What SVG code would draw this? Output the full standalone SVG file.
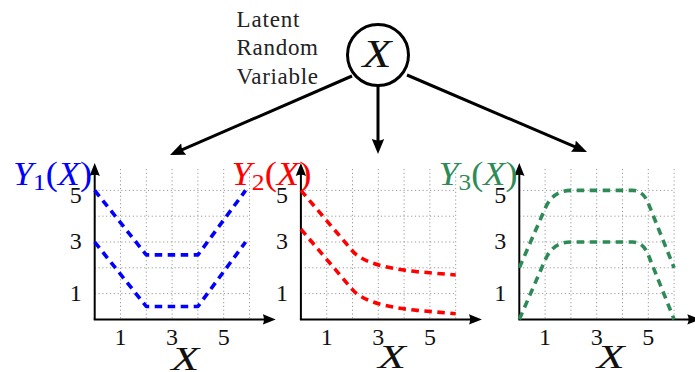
<svg xmlns="http://www.w3.org/2000/svg" width="695" height="372" viewBox="0 0 695 372">
<style>
.grid{stroke:#9a9a9a;stroke-width:1;stroke-dasharray:1.2 2.6;fill:none}
.axis{stroke:#000;stroke-width:2;fill:none}
.conn{stroke:#000;stroke-width:3;fill:none}
.curve{stroke-width:3.6;stroke-dasharray:7.5 5.5;fill:none;stroke-linejoin:round}
.serif{font-family:"Liberation Serif","Times New Roman",serif}
.tick{font-family:"Liberation Serif","Times New Roman",serif;font-size:24px;fill:#111}
.ital{font-style:italic}
.xlab{font-family:"Liberation Serif","Times New Roman",serif;font-size:34px;font-style:italic;fill:#111}
.ylab{font-family:"Liberation Serif","Times New Roman",serif;font-size:33px}
</style>
<defs>
<marker id="axArrow" markerUnits="userSpaceOnUse" viewBox="0 0 13 11" markerWidth="13" markerHeight="11" refX="3" refY="5.5" orient="auto">
<path d="M0,0.3 L13,5.5 L0,10.7 Q2.5,5.5 0,0.3 Z" fill="#000"/>
</marker>
<marker id="bigArrow" markerUnits="userSpaceOnUse" viewBox="0 0 15 13" markerWidth="15" markerHeight="13" refX="4" refY="6.5" orient="auto">
<path d="M0,0.3 L15,6.5 L0,12.7 Q3,6.5 0,0.3 Z" fill="#000"/>
</marker>
</defs>

<g id="latent-node">
<circle cx="378" cy="55" r="30.5" fill="#fff" stroke="#000" stroke-width="3"/>
<text x="377" y="67" class="serif ital" font-size="40" text-anchor="middle" textLength="29" lengthAdjust="spacingAndGlyphs" fill="#111">X</text>
<text x="236.5" y="26.5" class="serif" font-size="23" textLength="63" fill="#222">Latent</text>
<text x="236.5" y="55" class="serif" font-size="23" textLength="81.5" fill="#222">Random</text>
<text x="236.5" y="83.5" class="serif" font-size="23" textLength="81.5" fill="#222">Variable</text>
</g>

<g id="connectors">
<line class="conn" x1="352" y1="76" x2="180.1" y2="150.6" marker-end="url(#bigArrow)"/>
<line class="conn" x1="378" y1="86" x2="378" y2="143" marker-end="url(#bigArrow)"/>
<line class="conn" x1="407" y1="75" x2="576.9" y2="147.7" marker-end="url(#bigArrow)"/>
</g>

<g id="plot-y1">
<g class="grid">
<path d="M120.5,169V319.4M146.3,169V319.4M172.1,169V319.4M197.9,169V319.4M223.7,169V319.4M249.5,169V319.4"/>
<path d="M94.7,293.6H249.5M94.7,267.8H249.5M94.7,242H249.5M94.7,216.2H249.5M94.7,190.4H249.5"/>
</g>
<line class="axis" x1="94.7" y1="319.4" x2="94.7" y2="173" marker-end="url(#axArrow)"/>
<line class="axis" x1="93.7" y1="319.4" x2="265.7" y2="319.4" marker-end="url(#axArrow)"/>
<polyline class="curve" stroke="#0000ff" points="94.7,190.4 146.3,254.9 197.9,254.9 245.6,190.4"/>
<polyline class="curve" stroke="#0000ff" points="94.7,242 146.3,306.5 197.9,306.5 245.6,242"/>
<text x="120.5" y="345" class="tick" text-anchor="middle">1</text>
<text x="172.1" y="345" class="tick" text-anchor="middle">3</text>
<text x="223.7" y="345" class="tick" text-anchor="middle">5</text>
<text x="81.7" y="203" class="tick" text-anchor="end">5</text>
<text x="81.7" y="249" class="tick" text-anchor="end">3</text>
<text x="81.7" y="300.5" class="tick" text-anchor="end">1</text>
<text x="185.2" y="370" class="xlab" text-anchor="middle" textLength="28" lengthAdjust="spacingAndGlyphs">X</text>
<text x="13" y="185" class="ylab" fill="#0000ff" textLength="79" lengthAdjust="spacingAndGlyphs"><tspan class="ital">Y</tspan><tspan font-size="23" dy="5">1</tspan><tspan dy="-5">(</tspan><tspan class="ital">X</tspan>)</text>
</g>

<g id="plot-y2">
<g class="grid">
<path d="M326.7,169V319.4M352.5,169V319.4M378.3,169V319.4M404.1,169V319.4M429.9,169V319.4M455.7,169V319.4"/>
<path d="M300.9,293.6H455.7M300.9,267.8H455.7M300.9,242H455.7M300.9,216.2H455.7M300.9,190.4H455.7"/>
</g>
<line class="axis" x1="300.9" y1="319.4" x2="300.9" y2="173" marker-end="url(#axArrow)"/>
<line class="axis" x1="299.9" y1="319.4" x2="471.9" y2="319.4" marker-end="url(#axArrow)"/>
<path class="curve" stroke="#ff0000" d="M300.9,190.4 L352.5,251 Q365.7,266.5 417,271.7 L455.7,275"/>
<path class="curve" stroke="#ff0000" d="M300.9,229.1 L352.5,289.7 Q365.7,305.2 417,310.4 L455.7,313.7"/>
<text x="326.7" y="345" class="tick" text-anchor="middle">1</text>
<text x="378.3" y="345" class="tick" text-anchor="middle">3</text>
<text x="429.9" y="345" class="tick" text-anchor="middle">5</text>
<text x="287.9" y="203" class="tick" text-anchor="end">5</text>
<text x="287.9" y="249" class="tick" text-anchor="end">3</text>
<text x="287.9" y="300.5" class="tick" text-anchor="end">1</text>
<text x="391.9" y="368" class="xlab" text-anchor="middle" textLength="28" lengthAdjust="spacingAndGlyphs">X</text>
<text x="231.5" y="185" class="ylab" fill="#ff0000" textLength="80" lengthAdjust="spacingAndGlyphs"><tspan class="ital">Y</tspan><tspan font-size="23" dy="5">2</tspan><tspan dy="-5">(</tspan><tspan class="ital">X</tspan>)</text>
</g>

<g id="plot-y3">
<g class="grid">
<path d="M545.1,169V319.4M570.9,169V319.4M596.7,169V319.4M622.5,169V319.4M648.3,169V319.4M674.1,169V319.4"/>
<path d="M519.3,293.6H674.1M519.3,267.8H674.1M519.3,242H674.1M519.3,216.2H674.1M519.3,190.4H674.1"/>
</g>
<line class="axis" x1="519.3" y1="319.4" x2="519.3" y2="173" marker-end="url(#axArrow)"/>
<line class="axis" x1="518.3" y1="319.4" x2="690.3" y2="319.4" marker-end="url(#axArrow)"/>
<path class="curve" stroke="#2e8b57" d="M519.3,267.8 L545.1,208.5 Q552.8,190.4 570.9,190.4 L632.8,190.4 Q643.1,190.4 648.3,203.3 L674.1,267.8"/>
<path class="curve" stroke="#2e8b57" d="M519.3,319.4 L545.1,260.1 Q552.8,242 570.9,242 L632.8,242 Q643.1,242 648.3,254.9 L674.1,319.4"/>
<text x="545.1" y="345" class="tick" text-anchor="middle">1</text>
<text x="596.7" y="345" class="tick" text-anchor="middle">3</text>
<text x="648.3" y="345" class="tick" text-anchor="middle">5</text>
<text x="506.3" y="203" class="tick" text-anchor="end">5</text>
<text x="506.3" y="249" class="tick" text-anchor="end">3</text>
<text x="506.3" y="300.5" class="tick" text-anchor="end">1</text>
<text x="610.8" y="368" class="xlab" text-anchor="middle" textLength="28" lengthAdjust="spacingAndGlyphs">X</text>
<text x="438.5" y="185" class="ylab" fill="#2e8b57" textLength="79" lengthAdjust="spacingAndGlyphs"><tspan class="ital">Y</tspan><tspan font-size="23" dy="5">3</tspan><tspan dy="-5">(</tspan><tspan class="ital">X</tspan>)</text>
</g>
</svg>
